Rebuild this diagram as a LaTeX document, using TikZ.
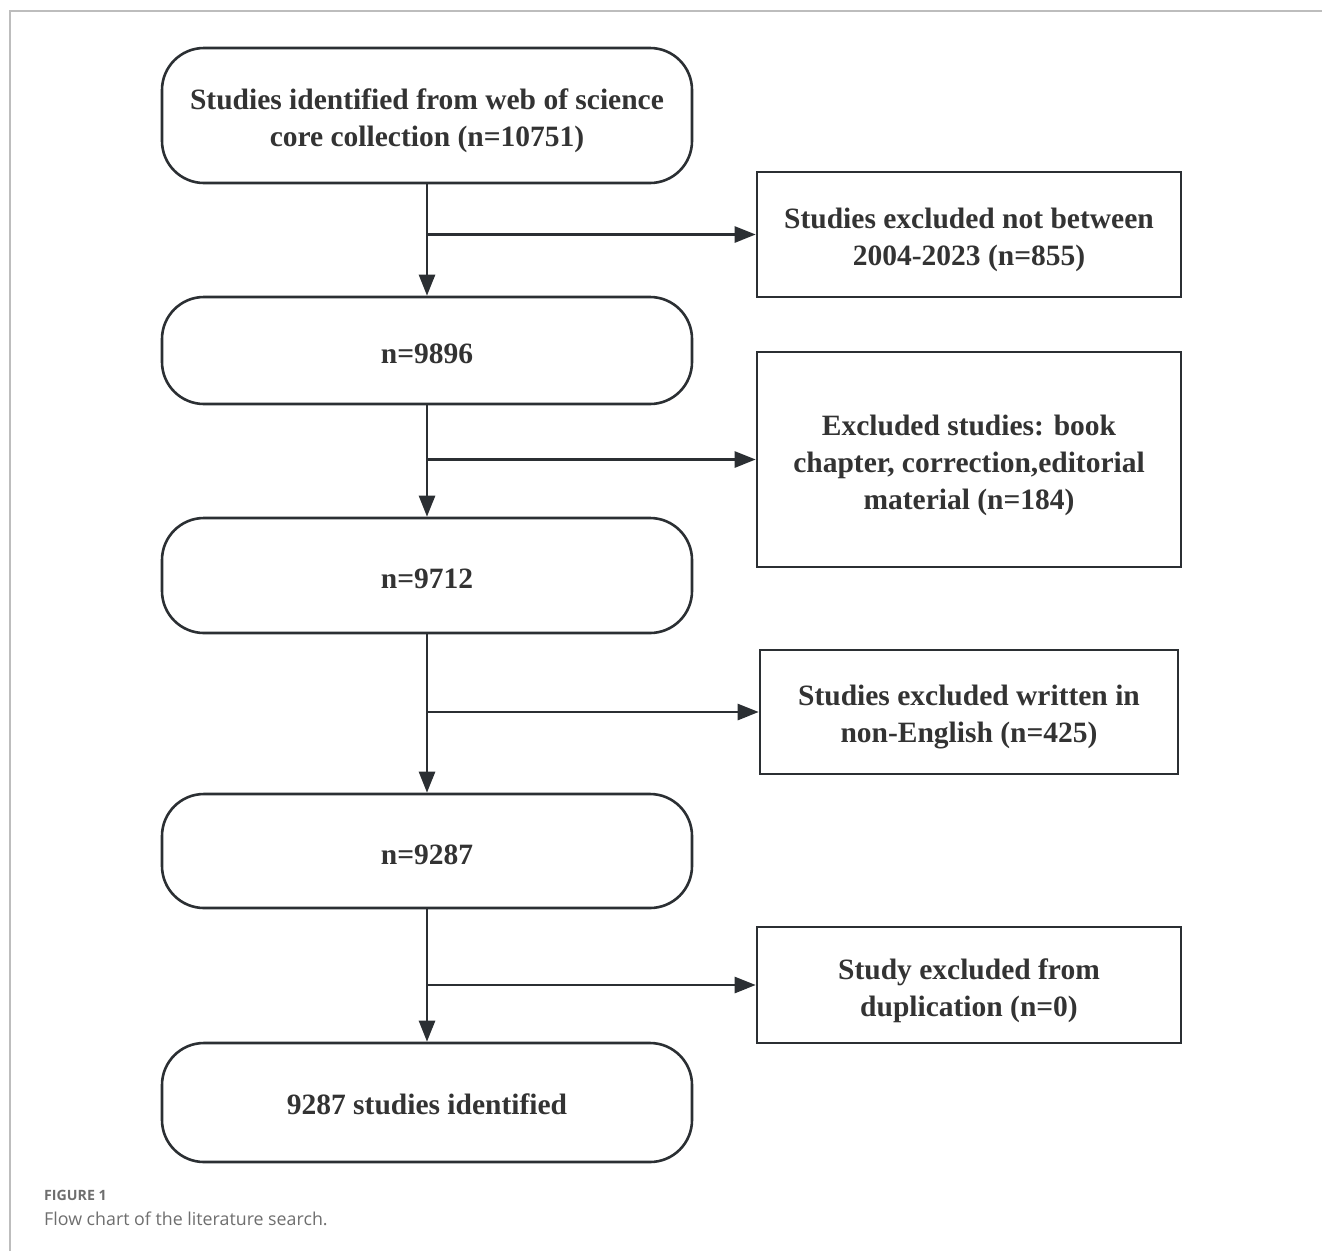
\documentclass[tikz,border=0pt]{standalone}
\usepackage{fontspec}
\setmainfont{Liberation Serif}
\newfontfamily\capfont{Open Sans}
\usetikzlibrary{arrows.meta}
\definecolor{ink}{HTML}{2B2F33}
\definecolor{txt}{HTML}{333333}
\definecolor{capgray}{HTML}{6E6E6E}
\definecolor{framegray}{HTML}{BDBDBD}
\newcommand\mylift[1]{\rule{0pt}{#1}}
\tikzset{
  stage/.style={draw=ink, line width=2.6pt, rounded corners=42pt, minimum width=530pt, align=center, text=txt, font=\fontsize{29.5}{37.5}\selectfont\bfseries},
  exclbox/.style={draw=ink, line width=2.6pt, minimum width=424pt, align=center, text=txt, font=\fontsize{29.5}{37}\selectfont\bfseries},
  arr/.style={draw=ink, line width=2.6pt, -{Triangle[length=21pt,width=16pt]}},
  capt/.style={anchor=base west, inner sep=0pt, text=capgray}
}
\begin{document}
\begin{tikzpicture}[x=1pt,y=-1pt]
\useasboundingbox (0,0) rectangle (1322,1251);
\draw[framegray, line width=1.5pt] (10,1251) -- (10,11) -- (1322,11);
% main column
\node[stage, minimum height=135pt] (n1) at (427,115.5) {\mylift{31pt}Studies identified from web of science\\core collection (n=10751)};
\node[stage, minimum height=107pt] (n2) at (427,350.5) {\mylift{26pt}n=9896};
\node[stage, minimum height=115pt] (n3) at (427,575.5) {\mylift{26pt}n=9712};
\node[stage, minimum height=114pt] (n4) at (427,851) {\mylift{27pt}n=9287};
\node[stage, minimum height=119pt] (n5) at (427,1102.5) {\mylift{25pt}9287 studies identified};
% exclusion boxes
\node[exclbox, minimum height=125pt] (b1) at (969,234.5) {\mylift{31pt}Studies excluded not between\\2004-2023 (n=855)};
\node[exclbox, minimum height=215pt] (b2) at (969,459.5) {\mylift{32pt}Excluded studies: book\\chapter, correction,editorial\\material (n=184)};
\node[exclbox, minimum width=418pt, minimum height=124pt] (b3) at (969,712) {\mylift{31pt}Studies excluded written in\\non-English (n=425)};
\node[exclbox, minimum height=116pt] (b4) at (969,985) {\mylift{32pt}Study excluded from\\duplication (n=0)};
% vertical arrows
\draw[arr] (n1.south) -- (n2.north);
\draw[arr] (n2.south) -- (n3.north);
\draw[arr] (n3.south) -- (n4.north);
\draw[arr] (n4.south) -- (n5.north);
% horizontal arrows
\draw[arr] (n1.south |- b1.west) -- (b1.west);
\draw[arr] (n2.south |- b2.west) -- (b2.west);
\draw[arr] (n3.south |- b3.west) -- (b3.west);
\draw[arr] (n4.south |- b4.west) -- (b4.west);
% caption
\node[capt, font=\capfont\bfseries\fontsize{14.2}{16}\selectfont] (cap1) at (44,1200) {FIGURE 1};
\node[capt, font=\capfont\fontsize{17.8}{20}\selectfont] (cap2) at (44,1225) {Flow chart of the literature search.};
\end{tikzpicture}
\end{document}
